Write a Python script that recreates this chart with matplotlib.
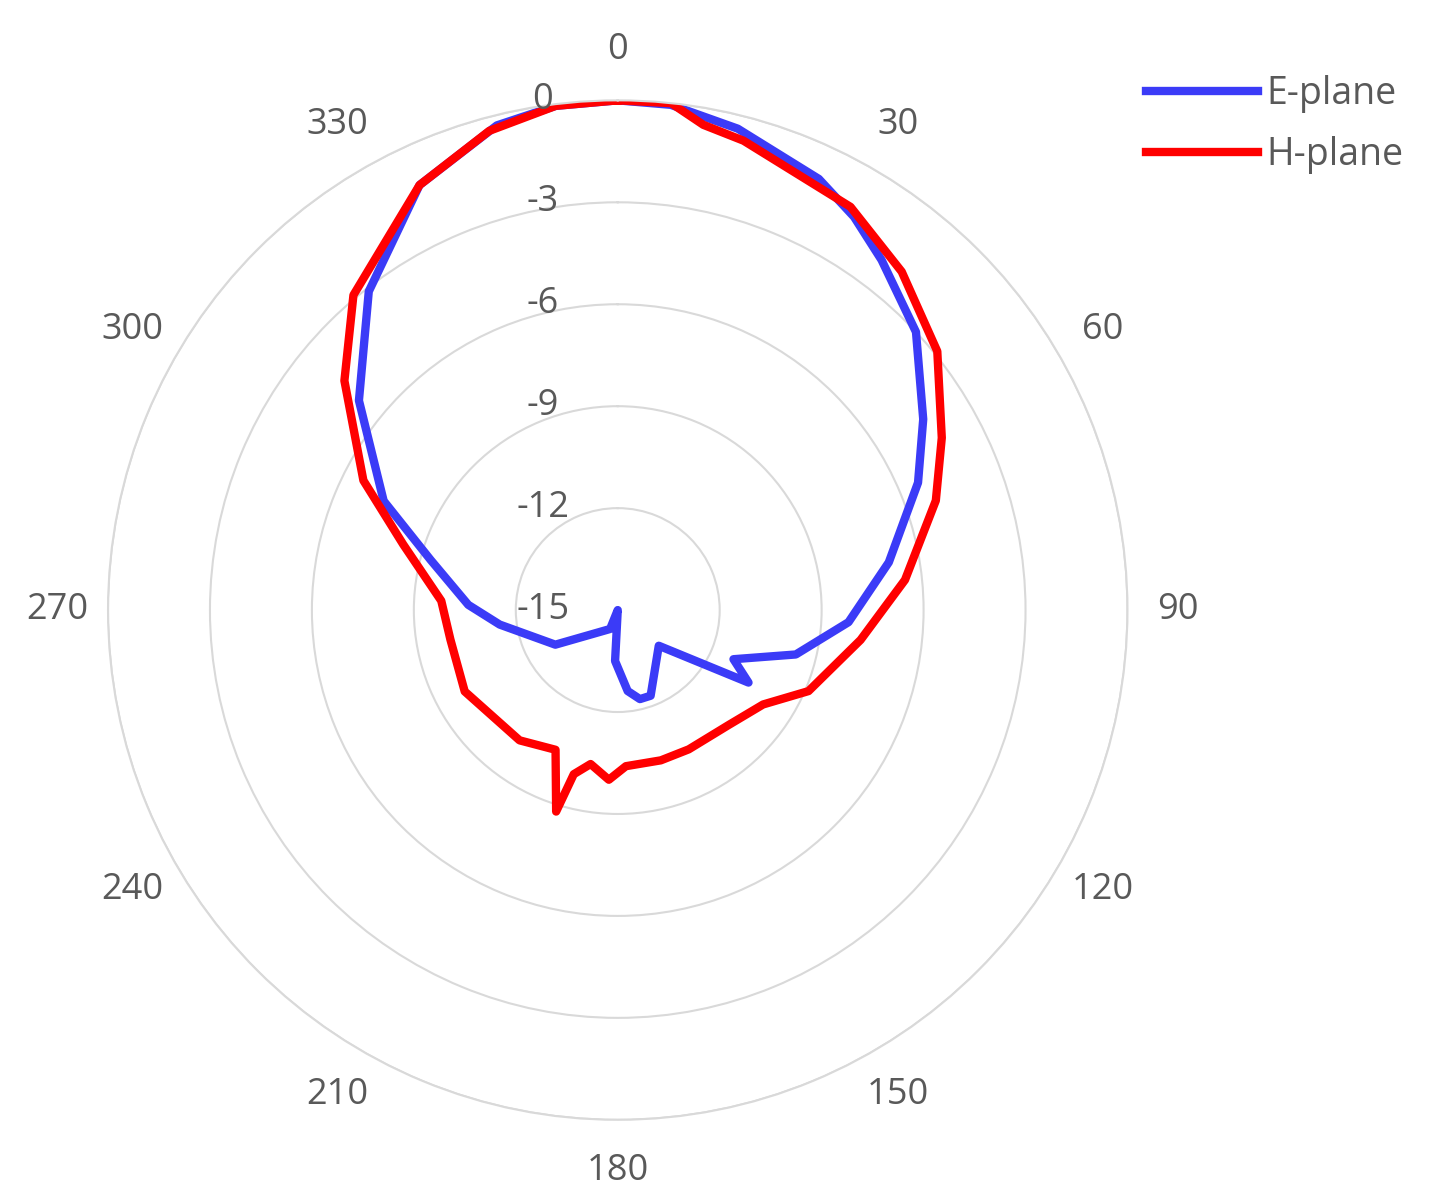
import numpy as np
import matplotlib.pyplot as plt
from matplotlib.transforms import offset_copy

# angle (deg, clockwise from top) and normalized gain (dB)
e_angle = [0, 6, 14, 25, 31, 37, 47, 58, 67, 80, 93, 104, 113, 119, 131, 159, 166, 173, 183,
           195, 202, 241, 263, 272, 285, 295, 309, 322, 335, 346, 353, 360]
e_gain = [0.0, -0.05, -0.4, -1.0, -1.5, -2.1, -3.0, -4.4, -5.4, -6.9, -8.2, -9.6, -11.3,
          -10.6, -13.4, -12.3, -12.3, -12.6, -13.5, -15.0, -14.4, -12.9, -11.5, -10.6,
          -9.3, -7.4, -5.2, -3.1, -1.2, -0.3, -0.05, 0.0]

h_angle = [0, 6, 10, 15, 30, 40, 51, 62, 71, 84, 97, 113, 123, 136, 153, 164, 177,
           183, 190, 195, 197, 204, 217, 242, 260, 273, 287, 297, 310, 320, 335, 345, 353, 360]
h_gain = [0.0, 0.0, -0.5, -0.7, -1.3, -2.0, -2.9, -4.2, -5.1, -6.5, -7.8, -8.9, -9.9,
          -10.3, -10.4, -10.4, -10.4, -10.0, -10.4, -10.0, -8.8, -10.5, -10.2, -9.9,
          -10.0, -9.8, -8.4, -6.6, -4.5, -2.9, -1.2, -0.4, -0.05, 0.0]

r_ticks = [-15, -12, -9, -6, -3, 0]

plt.rcParams['font.family'] = ['Open Sans', 'DejaVu Sans']

fig = plt.figure(figsize=(14.44, 11.86), dpi=100)
ax = fig.add_axes([0.0748, 0.0556, 0.706, 0.86], projection='polar')
ax.set_theta_zero_location('N')
ax.set_theta_direction(-1)
ax.set_ylim(-15, 0)

ax.plot(np.radians(e_angle), np.maximum(e_gain, -15), color='#3b3bf7', lw=6,
        label='E-plane', solid_joinstyle='round')
ax.plot(np.radians(h_angle), np.maximum(h_gain, -15), color='#ff0000', lw=6,
        label='H-plane', solid_joinstyle='round')

ax.set_yticks(r_ticks)
ax.set_yticklabels([])
ax.yaxis.grid(True, color='#d9d9d9', lw=1.5)
ax.xaxis.grid(False)
ax.spines['polar'].set_color('#d9d9d9')
ax.spines['polar'].set_linewidth(1.5)

tr = offset_copy(ax.transData, fig=fig, x=-75, y=0, units='dots')
for r in r_ticks:
    ax.text(0, r, str(r), transform=tr, ha='center', va='center',
            fontsize=26, color='#595959')

ax.set_xticks(np.radians(np.arange(0, 360, 30)))
ax.set_xticklabels([str(a) for a in range(0, 360, 30)], fontsize=26, color='#595959')
ax.tick_params(axis='x', pad=26)

fig.legend(loc='upper right', bbox_to_anchor=(0.995, 0.965), frameon=False,
           fontsize=27, handlelength=3.0, labelcolor='#595959', handletextpad=0.2,
           labelspacing=0.6)

fig.savefig('out.png', dpi=100, facecolor='white')
